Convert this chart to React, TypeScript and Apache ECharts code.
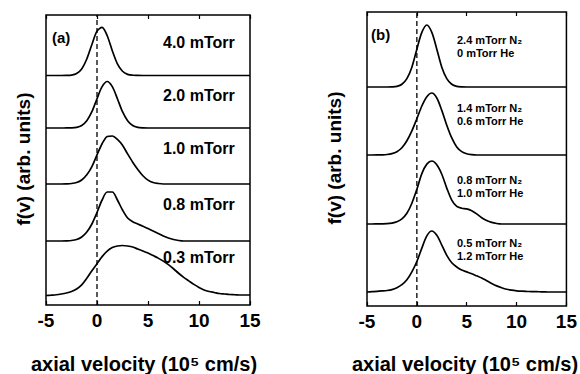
import React, { useEffect, useRef } from "react";
import * as echarts from "echarts";

// Shared velocity grid (10^5 cm/s), 0.5 step
const velocity = [-5, -4.5, -4, -3.5, -3, -2.5, -2, -1.5, -1, -0.5, 0, 0.5, 1, 1.5, 2, 2.5, 3, 3.5, 4, 4.5, 5, 5.5, 6, 6.5, 7, 7.5, 8, 8.5, 9, 9.5, 10, 10.5, 11, 11.5, 12, 12.5, 13, 13.5, 14, 14.5, 15];

// Panel (a): normalized f(v) for each pressure (top to bottom)
const a40 = [0, 0, 0, 0, 0.002, 0.009, 0.041, 0.135, 0.34, 0.64, 0.915, 0.994, 0.82, 0.51, 0.24, 0.087, 0.024, 0.005, 0.001, 0, 0, 0, 0, 0, 0, 0, 0, 0, 0, 0, 0, 0, 0, 0, 0, 0, 0, 0, 0, 0, 0];
const a20 = [0, 0, 0, 0, 0.001, 0.003, 0.015, 0.055, 0.157, 0.35, 0.63, 0.89, 1, 0.89, 0.63, 0.35, 0.157, 0.055, 0.015, 0.003, 0, 0, 0, 0, 0, 0, 0, 0, 0, 0, 0, 0, 0, 0, 0, 0, 0, 0, 0, 0, 0];
const a10 = [0, 0, 0, 0, 0.003, 0.01, 0.03, 0.082, 0.19, 0.36, 0.6, 0.83, 0.98, 0.99, 0.92, 0.8, 0.62, 0.45, 0.3, 0.17, 0.08, 0.03, 0.01, 0, 0, 0, 0, 0, 0, 0, 0, 0, 0, 0, 0, 0, 0, 0, 0, 0, 0];
const a08 = [0, 0, 0, 0, 0.003, 0.01, 0.03, 0.08, 0.18, 0.34, 0.57, 0.82, 0.98, 0.98, 0.82, 0.62, 0.46, 0.385, 0.34, 0.295, 0.25, 0.2, 0.15, 0.1, 0.06, 0.03, 0.01, 0, 0, 0, 0, 0, 0, 0, 0, 0, 0, 0, 0, 0, 0];
const a03 = [0.01, 0.017, 0.025, 0.04, 0.06, 0.09, 0.14, 0.22, 0.35, 0.5, 0.64, 0.78, 0.89, 0.96, 0.99, 1.0, 0.99, 0.97, 0.93, 0.89, 0.85, 0.8, 0.75, 0.69, 0.62, 0.54, 0.45, 0.37, 0.3, 0.23, 0.17, 0.12, 0.09, 0.07, 0.05, 0.04, 0.03, 0.025, 0.02, 0.02, 0.02];
const labelsA = ["4.0 mTorr", "2.0 mTorr", "1.0 mTorr", "0.8 mTorr", "0.3 mTorr"];
const offsetsA = [22.95, 17.7, 12.1, 6.4, 0.9];
const scalesA = [4.85, 4.65, 4.85, 5.0, 5.05];

// Panel (b): normalized f(v) for each N2/He mix (top to bottom)
const b1 = [0, 0, 0, 0, 0, 0.002, 0.011, 0.044, 0.135, 0.32, 0.61, 0.88, 1, 0.88, 0.61, 0.32, 0.135, 0.044, 0.011, 0.002, 0, 0, 0, 0, 0, 0, 0, 0, 0, 0, 0, 0, 0, 0, 0, 0, 0, 0, 0, 0, 0];
const b2 = [0, 0, 0.001, 0.003, 0.008, 0.022, 0.054, 0.117, 0.23, 0.39, 0.585, 0.79, 0.94, 1, 0.92, 0.72, 0.48, 0.275, 0.13, 0.055, 0.02, 0.006, 0, 0, 0, 0, 0, 0, 0, 0, 0, 0, 0, 0, 0, 0, 0, 0, 0, 0, 0];
const b3 = [0, 0, 0.001, 0.002, 0.005, 0.015, 0.035, 0.08, 0.17, 0.33, 0.55, 0.8, 0.95, 1, 0.94, 0.79, 0.57, 0.38, 0.28, 0.25, 0.24, 0.21, 0.16, 0.1, 0.055, 0.025, 0.008, 0, 0, 0, 0, 0, 0, 0, 0, 0, 0, 0, 0, 0, 0];
const b4 = [0, 0.005, 0.01, 0.017, 0.025, 0.04, 0.07, 0.12, 0.2, 0.33, 0.5, 0.72, 0.92, 1, 0.93, 0.77, 0.6, 0.48, 0.41, 0.36, 0.33, 0.3, 0.265, 0.23, 0.185, 0.14, 0.1, 0.07, 0.045, 0.03, 0.02, 0.014, 0.01, 0.007, 0.005, 0.003, 0.001, 0, 0, 0, 0];
const labelsBN2 = ["2.4 mTorr N₂", "1.4 mTorr N₂", "0.8 mTorr N₂", "0.5 mTorr N₂"];
const labelsBHe = ["0 mTorr He", "0.6 mTorr He", "1.0 mTorr He", "1.2 mTorr He"];
const offsetsB = [21.9, 15.1, 8.2, 1.4];
const scalesB = [6.2, 6.2, 6.3, 6.1];

const xTicks = { min: -5, max: 15, interval: 5 };
const yMaxA = 29;
const yMaxB = 29.4;

const FONT = '"Liberation Sans", Arial, Helvetica, sans-serif';

export default function App() {
  const ref = useRef<HTMLDivElement>(null);
  useEffect(() => {
    if (!ref.current) return;
    const chart = echarts.init(ref.current, null, { renderer: "svg" });
    const curvesA = [a40, a20, a10, a08, a03];
    const curvesB = [b1, b2, b3, b4];

    const xAxisBase = (gridIndex: number, pos: "bottom" | "top") => ({
      type: "value",
      gridIndex,
      position: pos,
      min: xTicks.min,
      max: xTicks.max,
      interval: xTicks.interval,
      axisLine: { show: false },
      axisTick: { show: true, inside: true, length: 4, lineStyle: { color: "#000", width: 1.2 } },
      splitLine: { show: false },
      axisLabel: pos === "bottom"
        ? { show: true, color: "#000", fontFamily: FONT, fontWeight: "bold", fontSize: 19, margin: 6 }
        : { show: false },
    });

    const curveSeries = (curves: number[][], offs: number[], scales: number[], axisIdx: number) =>
      curves.map((c, i) => ({
        type: "line",
        xAxisIndex: axisIdx,
        yAxisIndex: axisIdx / 2,
        data: velocity.map((v, k) => [v, offs[i] + scales[i] * c[k]]),
        showSymbol: false,
        smooth: 0.3,
        lineStyle: { color: "#000", width: 1.7 },
        z: 3,
        silent: true,
      }));

    const dashSeries = (axisIdx: number, yMax: number) => ({
      type: "line",
      xAxisIndex: axisIdx,
      yAxisIndex: axisIdx / 2,
      data: [[0, 0], [0, yMax]],
      showSymbol: false,
      lineStyle: { color: "#000", width: 1.3, type: [5, 3] },
      z: 2,
      silent: true,
    });

    const graphics: any[] = [];
    const txt = (text: string, x: number, y: number, font: string, align = "left", rotation = 0) => ({
      type: "text",
      x,
      y,
      rotation,
      style: {
        text,
        font,
        fill: "#000",
        textAlign: align,
        textVerticalAlign: "middle",
        align,
        verticalAlign: "middle",
      },
      z: 10,
    });
    graphics.push(txt("(a)", 52, 37, `bold 15px ${FONT}`));
    graphics.push(txt("(b)", 371, 34, `bold 15px ${FONT}`));
    const yA = [42, 95, 148, 204, 257];
    labelsA.forEach((l, i) => graphics.push(txt(l, 163, yA[i], `bold 16px ${FONT}`)));
    const yB = [40, 108, 180, 243];
    labelsBN2.forEach((l, i) => {
      graphics.push(txt(l, 457, yB[i], `bold 11px ${FONT}`));
      graphics.push(txt(labelsBHe[i], 457, yB[i] + 13, `bold 11px ${FONT}`));
    });
    graphics.push(txt("axial velocity (10⁵ cm/s)", 144, 364, `bold 20px ${FONT}`, "center"));
    graphics.push(txt("axial velocity (10⁵ cm/s)", 465, 364, `bold 20px ${FONT}`, "center"));
    graphics.push(txt("f(v) (arb. units)", 23, 159, `bold 19px ${FONT}`, "center", Math.PI / 2));
    graphics.push(txt("f(v) (arb. units)", 334, 158, `bold 19px ${FONT}`, "center", Math.PI / 2));

    chart.setOption({
      animation: false,
      backgroundColor: "#fff",
      grid: [
        { left: 46, top: 15, width: 204, height: 290, show: true, borderColor: "#000", borderWidth: 1.5, backgroundColor: "transparent" },
        { left: 367, top: 12, width: 202, height: 294, show: true, borderColor: "#000", borderWidth: 1.5, backgroundColor: "transparent" },
      ],
      xAxis: [
        xAxisBase(0, "bottom"),
        xAxisBase(0, "top"),
        xAxisBase(1, "bottom"),
        xAxisBase(1, "top"),
      ],
      yAxis: [
        { type: "value", gridIndex: 0, min: 0, max: yMaxA, show: false },
        { type: "value", gridIndex: 1, min: 0, max: yMaxB, show: false },
      ],
      series: [
        dashSeries(0, yMaxA),
        ...curveSeries(curvesA, offsetsA, scalesA, 0),
        dashSeries(2, yMaxB),
        ...curveSeries(curvesB, offsetsB, scalesB, 2),
      ],
      graphic: graphics,
    });
    return () => chart.dispose();
  }, []);
  return <div ref={ref} style={{ position: "fixed", left: 0, top: 0, width: 580, height: 374 }} />;
}
